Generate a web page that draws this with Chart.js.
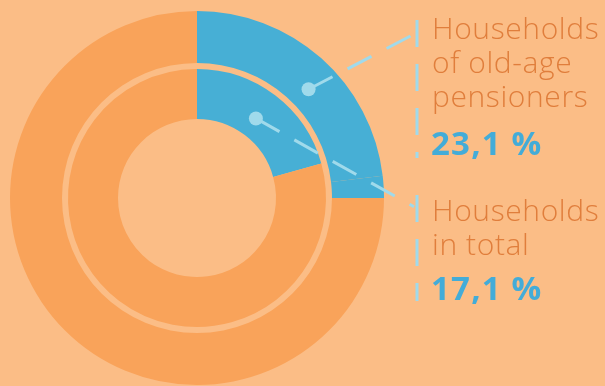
<!DOCTYPE html>
<html>
<head>
<meta charset="utf-8">
<script src="https://cdn.jsdelivr.net/npm/chart.js@4/dist/chart.umd.min.js"></script>
<style>
  html, body { margin: 0; padding: 0; background: #FBBD86; }
  #wrap { position: relative; width: 605px; height: 386px; overflow: hidden; background: #FBBD86; }
  #chart { position: absolute; left: 0; top: 0; }
  .lbl { position: absolute; left: 432px; font-family: "Open Sans", sans-serif; font-weight: 300;
         font-size: 30px; letter-spacing: 0.6px; line-height: 34px; color: #E07E3C; white-space: nowrap; }
  .num { position: absolute; left: 431px; font-family: "Open Sans", sans-serif; font-weight: 700;
         font-size: 33px; letter-spacing: 1.2px; line-height: 34px; color: #43ACD8; white-space: nowrap; }
</style>
</head>
<body>
<div id="wrap">
  <canvas id="chart" width="605" height="386"></canvas>
  <div class="lbl" id="lbl0" style="top:11px"></div>
  <div class="num" id="num0" style="top:126px"></div>
  <div class="lbl" id="lbl1" style="top:193px"></div>
  <div class="num" id="num1" style="top:271px"></div>
</div>
<script>
// Beschriftungen und Werte
const seriesLabels = [['Households', 'of old-age', 'pensioners'], ['Households', 'in total']];
const shareLabels = ['23,1 %', '17,1 %'];
// äußerer Ring: Rentnerhaushalte (blau + schmaler blauer Rest), übrige Haushalte
const outerValues = [23.1, 1.9, 75.0];
// innerer Ring: Haushalte insgesamt
const innerValues = [20.7, 79.3];

const BLUE = '#47AFD5';
const ORANGE = '#F9A35A';
const LIGHT = '#A0DAEB';

// Texte setzen
seriesLabels.forEach(function(lines, i) {
    document.getElementById('lbl' + i).innerHTML = lines.join('<br>');
    document.getElementById('num' + i).textContent = shareLabels[i];
});

// Hinweislinien mit Punkt
const calloutPlugin = {
    id: 'callouts',
    afterDatasetsDraw(chart, args, opts) {
        const ctx = chart.ctx;
        opts.items.forEach(function(item) {
            const arc = chart.getDatasetMeta(item.dataset).data[0];
            const a = arc.startAngle + (arc.endAngle - arc.startAngle) * item.frac;
            const r = arc.innerRadius + (arc.outerRadius - arc.innerRadius) * 0.4;
            const px = arc.x + r * Math.cos(a);
            const py = arc.y + r * Math.sin(a);
            const ey = py + (opts.joinX - px) * Math.tan(item.slope);

            ctx.save();
            ctx.strokeStyle = LIGHT;
            ctx.lineWidth = 3;
            ctx.setLineDash([27, 17]);
            ctx.beginPath();
            ctx.moveTo(px, py);
            ctx.lineTo(opts.joinX, ey);
            ctx.stroke();
            ctx.beginPath();
            ctx.moveTo(opts.barX, item.top);
            ctx.lineTo(opts.barX, item.bottom);
            ctx.stroke();
            ctx.setLineDash([]);
            ctx.fillStyle = LIGHT;
            ctx.beginPath();
            ctx.arc(px, py, 7, 0, Math.PI * 2);
            ctx.fill();
            ctx.restore();
        });
    }
};

new Chart(document.getElementById('chart'), {
    type: 'doughnut',
    data: {
        datasets: [
            { data: outerValues, backgroundColor: [BLUE, BLUE, ORANGE], borderWidth: 0, weight: 52 },
            { data: [1], backgroundColor: 'rgba(0,0,0,0)', borderWidth: 0, weight: 6 },
            { data: innerValues, backgroundColor: [BLUE, ORANGE], borderWidth: 0, weight: 50 }
        ]
    },
    options: {
        responsive: false,
        animation: false,
        events: [],
        cutout: 79,
        layout: { padding: { left: 10, top: 11, right: 221, bottom: 1 } },
        plugins: {
            legend: { display: false },
            tooltip: { enabled: false },
            callouts: {
                joinX: 414,
                barX: 417,
                items: [
                    { dataset: 0, frac: 0.55, slope: -27.6 * Math.PI / 180, top: 20, bottom: 158 },
                    { dataset: 2, frac: 0.49, slope: 29.2 * Math.PI / 180, top: 195, bottom: 301 }
                ]
            }
        }
    },
    plugins: [calloutPlugin]
});
</script>
</body>
</html>
